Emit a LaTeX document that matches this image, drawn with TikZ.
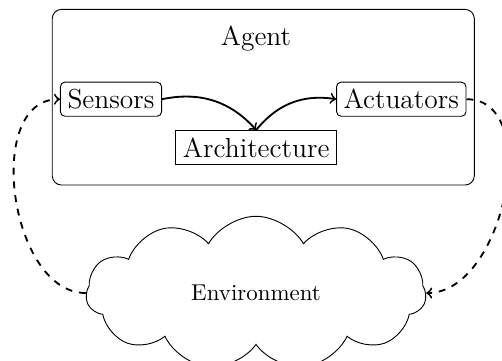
\documentclass[tikz,border=0pt]{standalone}
\usetikzlibrary{shapes.symbols}
\begin{document}
\begin{tikzpicture}[x=0.4367pt,y=-0.4367pt,
  box/.style={draw, rounded corners=2pt, inner sep=3.1pt, font=\large},
  archbox/.style={draw, inner sep=3.1pt, font=\large},
  flow/.style={->, thick},
  loopflow/.style={->, thick, dashed}]
\useasboundingbox (0,0) rectangle (502,360);
\node[draw, rounded corners=4pt, minimum width=184.3pt, minimum height=76.7pt] (agent) at (263.3,97.2) {};
\node[font=\large] (agentlabel) at (256,38.5) {Agent};
\node[box] (sensors) at (111,99.2) {Sensors};
\node[box] (actuators) at (401.3,99.2) {Actuators};
\node[archbox] (arch) at (256.2,147.5) {Architecture};
\node[cloud, draw, cloud puffs=11, cloud puff arc=120, cloud ignores aspect, minimum width=148.5pt, minimum height=67pt] (env) at (256,293) {Environment};
\draw[flow] (sensors.east) to[bend left] (arch.north);
\draw[flow] (arch.north) to[bend left] (actuators.west);
\draw[loopflow] (actuators.east) to[out=0,in=0] (env.east);
\draw[loopflow] (env.west) to[out=180,in=180] (sensors.west);
\end{tikzpicture}
\end{document}
